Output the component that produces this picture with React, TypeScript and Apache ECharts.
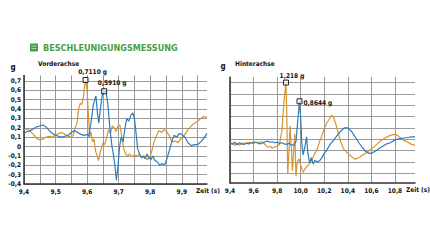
import React, { useEffect, useRef } from "react";
import * as echarts from "echarts";

// ---- Data: Vorderachse (front axle) ----
const frontBlue: [number, number][] = [
  [9.4, 0.14], [9.41, 0.16], [9.42, 0.17], [9.43, 0.19], [9.44, 0.21], [9.45, 0.22], [9.46, 0.23], [9.47, 0.21],
  [9.48, 0.17], [9.49, 0.14], [9.5, 0.12], [9.51, 0.11], [9.52, 0.1], [9.53, 0.11], [9.54, 0.12], [9.55, 0.15],
  [9.56, 0.17], [9.57, 0.15], [9.58, 0.13], [9.59, 0.12], [9.6, 0.13], [9.605, 0.11], [9.612, 0.25], [9.62, 0.45],
  [9.628, 0.54], [9.633, 0.35], [9.637, 0.25], [9.642, 0.4], [9.648, 0.55], [9.654, 0.591], [9.66, 0.58],
  [9.666, 0.45], [9.672, 0.2], [9.678, 0.02], [9.684, -0.1], [9.688, -0.2], [9.693, -0.36], [9.698, -0.2],
  [9.703, 0.0], [9.708, 0.1], [9.714, 0.05], [9.72, 0.2], [9.726, 0.3], [9.732, 0.27], [9.738, 0.33],
  [9.745, 0.36], [9.75, 0.3], [9.755, 0.15], [9.76, -0.02], [9.766, -0.08], [9.772, -0.12], [9.778, -0.1],
  [9.784, -0.13], [9.79, -0.08], [9.796, -0.12], [9.802, -0.14], [9.808, -0.1], [9.815, -0.15], [9.822, -0.16],
  [9.83, -0.2], [9.838, -0.18], [9.845, -0.2], [9.852, -0.14], [9.86, -0.05], [9.868, 0.05], [9.876, 0.12],
  [9.884, 0.1], [9.892, 0.14], [9.9, 0.13], [9.91, 0.1], [9.92, 0.04], [9.93, 0.01], [9.94, 0.02], [9.95, 0.02],
  [9.96, 0.05], [9.97, 0.09], [9.98, 0.14],
];
const frontOrange: [number, number][] = [
  [9.4, 0.18], [9.41, 0.19], [9.42, 0.16], [9.43, 0.13], [9.44, 0.09], [9.45, 0.07], [9.46, 0.08], [9.47, 0.1],
  [9.48, 0.11], [9.49, 0.1], [9.5, 0.12], [9.51, 0.14], [9.52, 0.15], [9.53, 0.13], [9.54, 0.11], [9.55, 0.1],
  [9.556, 0.12], [9.562, 0.2], [9.568, 0.25], [9.573, 0.4], [9.578, 0.46], [9.583, 0.45], [9.588, 0.52],
  [9.591, 0.62], [9.595, 0.711], [9.6, 0.6], [9.604, 0.35], [9.608, 0.1], [9.612, 0.16], [9.617, 0.05],
  [9.622, 0.08], [9.627, -0.05], [9.632, -0.1], [9.636, -0.15], [9.64, -0.08], [9.645, -0.02], [9.65, 0.04],
  [9.656, 0.02], [9.662, 0.1], [9.668, 0.18], [9.674, 0.14], [9.68, 0.22], [9.686, 0.2], [9.692, 0.16],
  [9.698, 0.22], [9.704, 0.23], [9.71, 0.1], [9.716, -0.02], [9.722, -0.08], [9.728, -0.1], [9.735, -0.08],
  [9.742, -0.11], [9.75, -0.09], [9.758, -0.1], [9.766, -0.08], [9.774, -0.12], [9.782, -0.1], [9.79, -0.14],
  [9.798, -0.12], [9.805, -0.05], [9.812, 0.05], [9.82, 0.12], [9.828, 0.17], [9.836, 0.15], [9.844, 0.18],
  [9.852, 0.16], [9.86, 0.12], [9.866, 0.07], [9.872, 0.05], [9.88, 0.06], [9.888, 0.04], [9.896, 0.08],
  [9.904, 0.1], [9.912, 0.14], [9.92, 0.18], [9.93, 0.22], [9.94, 0.25], [9.95, 0.27], [9.96, 0.3],
  [9.97, 0.32], [9.98, 0.31],
];

// ---- Data: Hinterachse (rear axle) ----
const rearBlue: [number, number][] = [
  [9.4, 0.08], [9.42, 0.05], [9.44, 0.09], [9.46, 0.04], [9.48, 0.08], [9.5, 0.06], [9.52, 0.05], [9.54, 0.07],
  [9.56, 0.06], [9.58, 0.08], [9.6, 0.07], [9.62, 0.09], [9.64, 0.07], [9.66, 0.06], [9.68, 0.08], [9.7, 0.1],
  [9.72, 0.11], [9.74, 0.09], [9.76, 0.1], [9.78, 0.08], [9.8, 0.09], [9.82, 0.07], [9.84, 0.08], [9.86, 0.06],
  [9.88, 0.05], [9.9, 0.07], [9.92, 0.04], [9.94, 0.03], [9.96, 0.1], [9.975, 0.5], [9.99, 0.8644], [10.0, 0.55],
  [10.01, 0.05], [10.02, -0.15], [10.035, 0.0], [10.05, 0.19], [10.06, -0.1], [10.075, -0.3], [10.09, -0.2],
  [10.105, -0.32], [10.12, -0.25], [10.14, -0.28], [10.16, -0.26], [10.18, -0.2], [10.2, -0.12], [10.22, -0.06],
  [10.25, 0.05], [10.28, 0.13], [10.31, 0.22], [10.34, 0.3], [10.37, 0.36], [10.4, 0.36], [10.43, 0.3],
  [10.46, 0.2], [10.49, 0.09], [10.52, 0.0], [10.55, -0.08], [10.58, -0.12], [10.61, -0.11], [10.64, -0.07],
  [10.67, -0.02], [10.7, 0.02], [10.73, 0.06], [10.76, 0.08], [10.79, 0.12], [10.82, 0.15], [10.85, 0.16],
  [10.88, 0.17], [10.91, 0.18], [10.94, 0.19], [10.97, 0.19],
];
const rearOrange: [number, number][] = [
  [9.4, 0.05], [9.42, 0.08], [9.44, 0.03], [9.46, 0.07], [9.48, 0.04], [9.5, 0.06], [9.52, 0.08], [9.54, 0.07],
  [9.56, 0.09], [9.58, 0.08], [9.6, 0.1], [9.62, 0.09], [9.64, 0.08], [9.66, 0.1], [9.68, 0.09], [9.7, 0.04],
  [9.72, 0.0], [9.74, 0.01], [9.76, -0.02], [9.78, 0.0], [9.8, 0.02], [9.82, 0.05], [9.84, 0.3], [9.86, 0.9],
  [9.875, 1.218], [9.882, 0.6], [9.89, -0.5], [9.9, -0.1], [9.91, 0.4], [9.92, 0.0], [9.93, -0.45], [9.94, -0.1],
  [9.95, 0.25], [9.96, -0.55], [9.97, -0.3], [9.985, -0.22], [10.0, -0.35], [10.02, -0.48], [10.04, -0.4],
  [10.06, -0.35], [10.08, -0.3], [10.1, -0.22], [10.12, -0.12], [10.14, -0.04], [10.16, 0.1], [10.18, 0.22],
  [10.2, 0.35], [10.22, 0.45], [10.24, 0.52], [10.26, 0.6], [10.28, 0.55], [10.3, 0.42], [10.32, 0.25],
  [10.34, 0.1], [10.36, -0.02], [10.38, -0.08], [10.4, -0.12], [10.43, -0.18], [10.46, -0.23], [10.49, -0.21],
  [10.52, -0.16], [10.55, -0.12], [10.58, -0.07], [10.61, -0.02], [10.64, 0.04], [10.67, 0.1], [10.7, 0.15],
  [10.73, 0.19], [10.76, 0.22], [10.79, 0.24], [10.82, 0.22], [10.85, 0.17], [10.88, 0.12], [10.91, 0.09],
  [10.94, 0.05], [10.97, 0.03],
];

// Peak annotations [time, value, label]
const frontPeakOrange: [number, number, string] = [9.595, 0.711, "0,7110 g"];
const frontPeakBlue: [number, number, string] = [9.654, 0.591, "0,5910 g"];
const rearPeakOrange: [number, number, string] = [9.875, 1.218, "1,218 g"];
const rearPeakBlue: [number, number, string] = [9.99, 0.8644, "0,8644 g"];

const title = "BESCHLEUNIGUNGSMESSUNG";
const frontTitle = "Vorderachse";
const rearTitle = "Hinterachse";
const unitLabel = "g";
const timeLabel = "Zeit (s)";

const ORANGE = "#d8952e";
const BLUE = "#2a7dc0";
const GRID = "#9a9a9a";
const AXIS = "#333333";
const FONT = "'Liberation Sans Narrow', 'DejaVu Sans Condensed', 'DejaVu Sans', sans-serif";

const fmtComma = (v: number, d: number) => v.toFixed(d).replace(".", ",");

function peakPoint(p: [number, number, string], pos: any, dist: number, offset: number[]) {
  return {
    coord: [p[0], p[1]],
    symbol: "rect",
    symbolSize: 5,
    itemStyle: { color: "rgba(255,255,255,0.6)", borderColor: "#222", borderWidth: 1 },
    label: {
      show: true,
      formatter: p[2],
      position: pos,
      distance: dist,
      offset,
      color: "#111",
      fontSize: 6.5,
      fontWeight: "bold",
      fontFamily: FONT,
    },
  };
}

export default function App() {
  const ref = useRef<HTMLDivElement>(null);
  useEffect(() => {
    if (!ref.current) return;
    const chart = echarts.init(ref.current, undefined, { renderer: "svg" });
    const labelStyle = { color: "#111", fontSize: 6.5, fontWeight: "bold" as const, fontFamily: FONT };
    const option: any = {
      animation: false,
      backgroundColor: "#ffffff",
      grid: [
        { left: 24, right: 223, top: 75.4, bottom: 57, containLabel: false },
        { left: 230, right: 15, top: 77, bottom: 58, containLabel: false },
        { left: 230, right: 15, top: 82.7, bottom: 67.7, containLabel: false },
      ],
      xAxis: [
        {
          type: "value",
          gridIndex: 0,
          min: 9.4,
          max: 9.98,
          interval: 0.05,
          axisLine: { show: true, onZero: false, lineStyle: { color: AXIS, width: 1.5 } },
          axisTick: { show: false },
          splitLine: { show: true, showMaxLine: false, lineStyle: { color: GRID, width: 1 } },
          axisLabel: {
            ...labelStyle,
            margin: 4,
            showMaxLabel: false,
            showMinLabel: true,
            formatter: (v: number) => {
              if (v > 9.97) return "";
              const r = Math.round(v * 100);
              return r % 10 === 0 ? fmtComma(v, 1) : "";
            },
          },
        },
        {
          type: "value",
          gridIndex: 1,
          min: 9.4,
          max: 10.97,
          interval: 0.2,
          axisLine: { show: true, onZero: false, lineStyle: { color: AXIS, width: 1.5 } },
          axisTick: { show: false },
          splitLine: { show: true, showMaxLine: false, lineStyle: { color: GRID, width: 1 } },
          axisLabel: {
            ...labelStyle,
            margin: 4,
            showMaxLabel: false,
            showMinLabel: true,
            hideOverlap: false,
            formatter: (v: number) => (v > 10.95 ? "" : fmtComma(v, 1)),
          },
        },
        { type: "value", gridIndex: 2, min: 0, max: 1, show: false },
      ],
      yAxis: [
        {
          type: "value",
          gridIndex: 0,
          min: -0.4,
          max: 0.76,
          interval: 0.1,
          axisLine: { show: true, onZero: false, lineStyle: { color: AXIS, width: 1.5 } },
          axisTick: { show: false },
          splitLine: { show: true, showMaxLine: false, lineStyle: { color: GRID, width: 1 } },
          axisLabel: {
            ...labelStyle,
            margin: 3,
            showMaxLabel: false,
            formatter: (v: number) => {
              if (v > 0.71) return "";
              if (Math.abs(v) < 1e-6) return "0";
              return fmtComma(v, 1);
            },
          },
        },
        {
          type: "value",
          gridIndex: 1,
          min: -0.68,
          max: 1.323,
          axisLine: { show: true, onZero: false, lineStyle: { color: AXIS, width: 1.5 } },
          axisTick: { show: false },
          splitLine: { show: false },
          axisLabel: { show: false },
        },
        {
          type: "value",
          gridIndex: 2,
          min: 0,
          max: 8,
          interval: 1,
          axisLine: { show: false },
          axisTick: { show: false },
          axisLabel: { show: false },
          splitLine: { show: true, lineStyle: { color: GRID, width: 1 } },
        },
      ],
      graphic: [
        { type: "rect", shape: { x: 30, y: 43.5, width: 8, height: 8 }, style: { fill: "#4a9e46" } },
        { type: "rect", shape: { x: 31.5, y: 45.5, width: 5, height: 1 }, style: { fill: "#a9d6a4" } },
        { type: "rect", shape: { x: 31.5, y: 48, width: 5, height: 1 }, style: { fill: "#a9d6a4" } },
        {
          type: "text",
          x: 43,
          y: 48,
          style: {
            text: title,
            fill: "#46a046",
            fontSize: 9,
            fontWeight: "bold",
            fontFamily: FONT,
            verticalAlign: "middle",
            textAlign: "left",
          },
        },
        { type: "text", x: 38, y: 63.5, style: { text: frontTitle, fill: "#111", fontSize: 6.5, fontWeight: "bold", fontFamily: FONT, verticalAlign: "middle" } },
        { type: "text", x: 235, y: 64, style: { text: rearTitle, fill: "#111", fontSize: 6.5, fontWeight: "bold", fontFamily: FONT, verticalAlign: "middle" } },
        { type: "text", x: 13, y: 67.5, style: { text: unitLabel, fill: "#111", fontSize: 8, fontWeight: "bold", fontFamily: FONT, verticalAlign: "middle", textAlign: "center" } },
        { type: "text", x: 223, y: 66.5, style: { text: unitLabel, fill: "#111", fontSize: 8, fontWeight: "bold", fontFamily: FONT, verticalAlign: "middle", textAlign: "center" } },
        { type: "text", x: 196, y: 191, style: { text: timeLabel, fill: "#111", fontSize: 6.5, fontWeight: "bold", fontFamily: FONT, verticalAlign: "middle", textAlign: "left" } },
        { type: "text", x: 406, y: 190, style: { text: timeLabel, fill: "#111", fontSize: 6.5, fontWeight: "bold", fontFamily: FONT, verticalAlign: "middle", textAlign: "left" } },
      ],
      series: [
        {
          type: "line",
          xAxisIndex: 0,
          yAxisIndex: 0,
          data: frontOrange,
          showSymbol: false,
          lineStyle: { color: ORANGE, width: 1.2 },
          itemStyle: { color: ORANGE },
          z: 3,
          markPoint: { data: [peakPoint(frontPeakOrange, "top", 1, [7, 0])] },
        },
        {
          type: "line",
          xAxisIndex: 0,
          yAxisIndex: 0,
          data: frontBlue,
          showSymbol: false,
          lineStyle: { color: BLUE, width: 1.2 },
          itemStyle: { color: BLUE },
          z: 4,
          markPoint: { data: [peakPoint(frontPeakBlue, "top", 2, [8, 0])] },
        },
        {
          type: "line",
          xAxisIndex: 1,
          yAxisIndex: 1,
          data: rearOrange,
          showSymbol: false,
          lineStyle: { color: ORANGE, width: 1.2 },
          itemStyle: { color: ORANGE },
          z: 3,
          markPoint: { data: [peakPoint(rearPeakOrange, "top", 0, [6, 0])] },
        },
        {
          type: "line",
          xAxisIndex: 1,
          yAxisIndex: 1,
          data: rearBlue,
          showSymbol: false,
          lineStyle: { color: BLUE, width: 1.2 },
          itemStyle: { color: BLUE },
          z: 4,
          markPoint: { data: [peakPoint(rearPeakBlue, "right", 1, [0, 2])] },
        },
      ],
    };
    chart.setOption(option);
    return () => chart.dispose();
  }, []);
  return (
    <div
      ref={ref}
      style={{ position: "fixed", left: 0, top: 0, width: 430, height: 241, background: "#fff" }}
    />
  );
}
